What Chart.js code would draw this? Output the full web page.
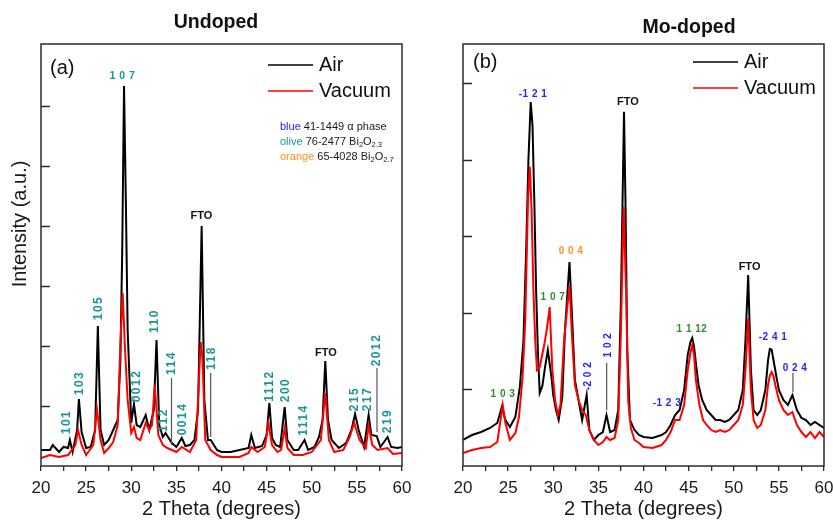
<!DOCTYPE html>
<html>
<head>
<meta charset="utf-8">
<script src="https://cdn.jsdelivr.net/npm/chart.js@4.4.0/dist/chart.umd.min.js"></script>
<style>
  body { margin: 0; background: #fff; }
  #wrap { position: relative; width: 833px; height: 520px; }
  canvas { position: absolute; top: 0; }
</style>
</head>
<body>
<div id="wrap">
  <canvas id="undoped" width="420" height="520" style="left:0"></canvas>
  <canvas id="modoped" width="413" height="520" style="left:420px"></canvas>
</div>
<script>
// XRD patterns: 2 theta (deg) and intensity (arbitrary counts)
const undopedAirTheta = [20,21,21.3,22,22.5,23,23.2,23.5,24,24.2,24.5,25,25.5,26,26.3,26.6,27,27.5,28,28.5,28.8,29,29.2,29.4,29.6,30,30.3,30.6,31,31.6,32,32.5,32.8,33.1,33.5,33.8,34.5,35,35.6,36,36.5,37,37.4,37.8,38.1,38.5,38.8,39.5,40,41,42,43,43.3,43.7,44.5,45,45.3,45.6,46,46.5,47,47.3,48,48.5,49.2,49.6,50.3,50.8,51.2,51.5,51.8,52.2,53,53.8,54.4,54.8,55.2,55.8,56.3,56.6,57.2,57.6,58.4,58.8,59.5,60];
const undopedAirCounts = [267,267,350,233,317,300,433,233,600,1117,567,300,317,600,2333,600,350,433,600,767,1767,3600,6333,4433,2267,717,1033,683,650,850,600,933,2100,683,483,550,383,317,467,333,350,433,933,4000,1100,433,433,267,233,233,267,300,517,300,333,517,1050,467,350,317,983,433,267,267,433,267,317,483,767,1750,767,433,300,383,600,867,600,317,850,517,500,317,483,317,300,317];

const undopedVacTheta = [20,21,22,23,23.8,24.1,24.5,25,25.8,26.2,26.6,27,27.5,28,28.5,28.8,29.05,29.3,29.6,30,30.3,30.6,31,31.6,32,32.3,32.6,33,33.5,34,35,35.6,36.5,37.2,37.5,37.7,37.9,38.2,38.8,39.5,40,42,43,43.3,44,44.8,45.2,45.6,46.2,46.6,47,47.3,48,49,50,51,51.5,51.9,52.5,53.5,54.2,54.7,55.3,56,56.3,56.7,57.3,58.4,59,60];
const undopedVacCounts = [133,183,150,183,350,600,350,183,350,950,433,217,300,400,683,2050,2883,1983,1100,550,650,467,433,717,600,683,1350,517,350,300,233,317,233,433,1433,2067,1767,433,267,183,150,150,217,317,233,317,717,350,233,267,633,300,183,183,233,433,1217,433,233,267,483,717,433,300,683,350,267,300,200,217];

const modopedAirTheta = [20,21,22,23,23.8,24.3,24.7,25.2,25.8,26.3,26.7,27.0,27.25,27.5,27.7,27.9,28.1,28.3,28.5,28.8,29.1,29.4,29.8,30.0,30.3,30.6,31.0,31.3,31.8,32.1,32.4,32.8,33.2,33.7,34.0,34.5,35.0,35.5,35.9,36.3,36.8,37.2,37.5,37.84,38.0,38.2,38.5,39,39.5,40,41,42,42.5,43,43.5,44,44.5,44.9,45.2,45.4,45.6,45.9,46.1,46.5,47,47.5,48,48.5,49,49.5,50,50.5,51.0,51.3,51.6,51.9,52.2,52.6,53.0,53.5,53.8,54.0,54.2,54.5,54.8,55.0,55.5,56.0,56.5,57.0,57.5,58,58.5,59,59.5,60];
const modopedAirCounts = [340,405,444,497,562,771,601,510,640,1033,1647,2823,4000,4757,4457,3477,2300,1500,954,1050,1300,1516,1163,928,732,601,900,1778,2666,1908,1124,863,601,928,470,340,405,444,667,444,470,732,2170,4631,3477,1516,601,470,405,379,366,405,444,536,667,732,993,1451,1620,1673,1560,1250,1059,863,732,667,601,601,575,601,667,732,993,1647,2496,1255,732,667,732,993,1385,1530,1520,1320,1120,993,863,797,928,732,627,601,536,575,536,497];

const modopedVacTheta = [20,21,22,23,23.8,24.4,24.7,25.2,25.8,26.2,26.6,26.9,27.2,27.4,27.6,27.8,28.0,28.2,28.5,29.0,29.3,29.6,29.9,30.2,30.5,30.8,31.2,31.8,32.1,32.4,32.8,33.2,33.6,34.0,34.5,35.0,35.5,35.9,36.3,36.8,37.2,37.5,37.8,38.1,38.3,38.6,39,39.5,40,41,42,42.5,43,43.5,44,44.5,44.9,45.2,45.4,45.6,45.8,46.2,46.6,47,47.5,48,48.5,49,49.5,50,50.5,51.0,51.3,51.6,51.9,52.2,52.6,53.0,53.5,53.8,54.0,54.2,54.4,54.6,55.0,55.5,56.0,56.5,57.0,57.5,58,58.5,59,59.5,60];
const modopedVacCounts = [170,209,235,248,314,797,562,340,431,640,1163,1908,3477,3912,3346,2300,1647,1255,1294,1581,1800,2078,1255,863,667,797,1647,2366,1647,1059,863,732,667,470,340,274,314,379,340,366,601,1778,3389,2170,863,497,340,301,248,235,274,340,444,601,601,797,1255,1480,1581,1450,1124,797,601,536,470,444,470,444,470,536,601,797,1255,1934,993,601,497,536,732,1059,1180,1229,1180,1059,863,732,667,706,536,444,379,444,366,444,379];

const thetaTicks = [20, 25, 30, 35, 40, 45, 50, 55, 60];

// peak labels (hkl), placed at 2theta / intensity
const undopedHkl = ['101','103','105','0012','110','112','114','0014','118','1112','200','1114','215','217','2012','219'];
const undopedHklTheta = [22.88,24.32,26.43,30.64,32.63,33.63,34.52,35.73,38.95,45.37,47.15,49.14,54.79,56.23,57.23,58.45];
const undopedHklLevel = [733,1383,2633,1333,2417,767,1717,783,1800,1333,1267,767,1117,1117,1933,750];
const undopedStickTheta = [34.46, 38.80, 57.23];
const undopedStickTop = [1467, 1550, 1633];
const undopedStickBottom = [350, 483, 567];
const undopedFtoTheta = [37.78, 51.58];
const undopedFtoLevel = [4167, 1883];

const modopedHkl = ['-1 2 1','0 0 4','1 0 7','1 0 3','-1 2 3','1 1 12','-2 4 1','0 2 4'];
const modopedHklPhase = ['blue','orange','olive','olive','blue','olive','blue','blue'];
const modopedHklTheta = [27.76,31.97,29.97,24.43,42.60,45.37,54.35,56.79];
const modopedHklLevel = [4862,2810,2209,941,823,1791,1686,1281];
const modopedVertHkl = ['-2 0 2', '1 0 2'];
const modopedVertTheta = [33.85, 36.07];
const modopedVertLevel = [1176, 1581];
const modopedStickTheta = [35.92, 56.56];
const modopedStickTop = [1346, 1216];
const modopedStickBottom = [732, 967];
const modopedFtoTheta = [38.28, 51.75];
const modopedFtoLevel = [4757, 2601];

const FONT = '"Liberation Sans", Arial, sans-serif';
const TEAL = '#1a9696';
const phaseColor = { blue: '#2424ff', olive: '#2e8b2e', orange: '#ff9124' };

function text(ctx, str, x, y, font, color, align, spacing) {
  ctx.font = font;
  ctx.fillStyle = color;
  ctx.textAlign = align || 'center';
  ctx.textBaseline = 'middle';
  ctx.letterSpacing = spacing || '0px';
  ctx.fillText(str, x, y);
  ctx.letterSpacing = '0px';
}

function vtext(ctx, str, x, y, font, color, spacing) {
  ctx.save();
  ctx.translate(x, y);
  ctx.rotate(-Math.PI / 2);
  text(ctx, str, 0, 0, font, color, 'center', spacing);
  ctx.restore();
}

function stick(ctx, x, y1, y2) {
  ctx.strokeStyle = '#555';
  ctx.lineWidth = 1.2;
  ctx.beginPath();
  ctx.moveTo(x, y1);
  ctx.lineTo(x, y2);
  ctx.stroke();
}

// frame, inward y ticks, legend and titles
function framePlugin(opt) {
  return {
    id: 'frame',
    afterDatasetsDraw(chart) {
      const ctx = chart.ctx, a = chart.chartArea, y = chart.scales.y;
      ctx.save();
      ctx.strokeStyle = '#2b2b2b';
      ctx.lineWidth = 1.5;
      ctx.strokeRect(a.left, a.top, a.right - a.left, a.bottom - a.top);
      opt.yTicks.forEach(v => {
        const py = Math.round(y.getPixelForValue(v)) + 0.5;
        ctx.beginPath();
        ctx.moveTo(a.left, py);
        ctx.lineTo(a.left + 9, py);
        ctx.stroke();
      });
      // legend
      ctx.lineWidth = 1.5;
      [['Air', '#000000'], ['Vacuum', '#ff0000']].forEach((it, i) => {
        const ly = opt.legendY + i * 26;
        ctx.strokeStyle = it[1];
        ctx.beginPath();
        ctx.moveTo(opt.legendX, ly);
        ctx.lineTo(opt.legendX + 45, ly);
        ctx.stroke();
        text(ctx, it[0], opt.legendX + 51, ly, '20px ' + FONT, '#111', 'left');
      });
      text(ctx, opt.tag, opt.tagX, opt.tagY, '20px ' + FONT, '#111', 'left');
      text(ctx, opt.title, opt.titleX, opt.titleY, 'bold 19.5px ' + FONT, '#111', 'center');
      opt.extra && opt.extra(chart);
      ctx.restore();
    }
  };
}

function makeChart(id, air, vac, yMax, padLeft, padRight, opt) {
  return new Chart(document.getElementById(id), {
    type: 'line',
    data: {
      datasets: [
        {
          label: 'Vacuum',
          data: vac[0].map((t, i) => ({ x: t, y: vac[1][i] })),
          borderColor: '#ff0000',
          borderWidth: 2,
          pointRadius: 0,
          tension: 0,
          order: 0
        },
        {
          label: 'Air',
          data: air[0].map((t, i) => ({ x: t, y: air[1][i] })),
          borderColor: '#000000',
          borderWidth: 2,
          pointRadius: 0,
          tension: 0,
          order: 1
        }
      ]
    },
    options: {
      responsive: false,
      animation: false,
      events: [],
      layout: { padding: { left: padLeft, right: padRight, top: 44, bottom: 0 } },
      plugins: { legend: { display: false }, tooltip: { enabled: false } },
      scales: {
        x: {
          type: 'linear',
          min: 20,
          max: 60,
          // keep the plot box where the figure has it, labels may overhang
          afterFit: s => { s.height = 54; s.paddingLeft = 0; s.paddingRight = 0; },
          border: { display: false },
          grid: { display: true, drawOnChartArea: false, drawTicks: true, tickLength: 5, color: '#2b2b2b', lineWidth: 1.3 },
          ticks: {
            stepSize: 2.5,
            autoSkip: false,
            maxRotation: 0,
            padding: 7,
            color: '#1a1a1a',
            font: { family: FONT, size: 17 },
            callback: v => thetaTicks.includes(v) ? String(v) : ''
          },
          title: {
            display: true,
            text: '2 Theta (degrees)',
            color: '#1a1a1a',
            font: { family: FONT, size: 20 },
            padding: { top: 0, bottom: -1 }
          }
        },
        y: { display: false, min: 0, max: yMax }
      }
    },
    plugins: [framePlugin(opt)]
  });
}

makeChart('undoped', [undopedAirTheta, undopedAirCounts], [undopedVacTheta, undopedVacCounts], 7033, 41, 18, {
  yTicks: [1000, 2000, 3000, 4000, 5000, 6000],
  legendX: 268, legendY: 65,
  tag: '(a)', tagX: 50, tagY: 68,
  title: 'Undoped', titleX: 216, titleY: 23,
  extra(chart) {
    const ctx = chart.ctx, x = chart.scales.x, y = chart.scales.y;
    vtext(ctx, 'Intensity (a.u.)', 20, 224, '20px ' + FONT, '#1a1a1a');
    undopedHkl.forEach((h, i) => {
      vtext(ctx, h, x.getPixelForValue(undopedHklTheta[i]), y.getPixelForValue(undopedHklLevel[i]), 'bold 12px ' + FONT, TEAL, '1.5px');
    });
    undopedStickTheta.forEach((t, i) => {
      stick(ctx, x.getPixelForValue(t), y.getPixelForValue(undopedStickTop[i]), y.getPixelForValue(undopedStickBottom[i]));
    });
    text(ctx, '1 0 7', x.getPixelForValue(29.03), y.getPixelForValue(6500), 'bold 10.5px ' + FONT, TEAL, 'center', '0.5px');
    undopedFtoTheta.forEach((t, i) => {
      text(ctx, 'FTO', x.getPixelForValue(t), y.getPixelForValue(undopedFtoLevel[i]), 'bold 11px ' + FONT, '#111', 'center');
    });
    // phase note
    const notes = [
      ['blue', phaseColor.blue, '41-1449 \u03b1 phase', ''],
      ['olive', TEAL, '76-2477 Bi', '2.3'],
      ['orange', phaseColor.orange, '65-4028 Bi', '2.7']
    ];
    notes.forEach((n, i) => {
      const ny = 127 + i * 15;
      let nx = 280;
      ctx.font = '11px ' + FONT;
      text(ctx, n[0] + ' ', nx, ny, '11px ' + FONT, n[1], 'left');
      nx += ctx.measureText(n[0] + ' ').width;
      text(ctx, n[2], nx, ny, '11px ' + FONT, '#1a1a1a', 'left');
      if (n[3]) {
        nx += ctx.measureText(n[2]).width;
        text(ctx, '2', nx, ny + 3, '7.5px ' + FONT, '#1a1a1a', 'left');
        ctx.font = '7.5px ' + FONT;
        nx += ctx.measureText('2').width;
        text(ctx, 'O', nx, ny, '11px ' + FONT, '#1a1a1a', 'left');
        ctx.font = '11px ' + FONT;
        nx += ctx.measureText('O').width;
        text(ctx, n[3], nx, ny + 3, '7.5px ' + FONT, '#1a1a1a', 'left');
      }
    });
  }
});

makeChart('modoped', [modopedAirTheta, modopedAirCounts], [modopedVacTheta, modopedVacCounts], 5516, 43, 9, {
  yTicks: [1000, 2000, 3000, 4000, 5000],
  legendX: 273, legendY: 62,
  tag: '(b)', tagX: 53, tagY: 62,
  title: 'Mo-doped', titleX: 269, titleY: 28,
  extra(chart) {
    const ctx = chart.ctx, x = chart.scales.x, y = chart.scales.y;
    modopedHkl.forEach((h, i) => {
      text(ctx, h, x.getPixelForValue(modopedHklTheta[i]), y.getPixelForValue(modopedHklLevel[i]), 'bold 10px ' + FONT, phaseColor[modopedHklPhase[i]], 'center', '0.5px');
    });
    modopedVertHkl.forEach((h, i) => {
      vtext(ctx, h, x.getPixelForValue(modopedVertTheta[i]), y.getPixelForValue(modopedVertLevel[i]), 'bold 10px ' + FONT, phaseColor.blue, '0.5px');
    });
    modopedStickTheta.forEach((t, i) => {
      stick(ctx, x.getPixelForValue(t), y.getPixelForValue(modopedStickTop[i]), y.getPixelForValue(modopedStickBottom[i]));
    });
    modopedFtoTheta.forEach((t, i) => {
      text(ctx, 'FTO', x.getPixelForValue(t), y.getPixelForValue(modopedFtoLevel[i]), 'bold 11px ' + FONT, '#111', 'center');
    });
  }
});
</script>
</body>
</html>
